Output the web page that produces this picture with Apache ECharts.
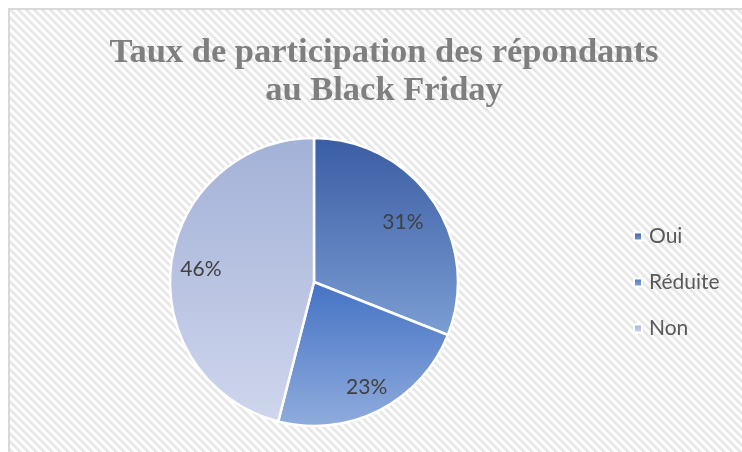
<!DOCTYPE html>
<html>
<head>
<meta charset="utf-8">
<script src="https://cdn.jsdelivr.net/npm/echarts@6/dist/echarts.min.js"></script>
<style>
html,body{margin:0;padding:0;background:#fff;}
#frame{
    position:absolute;left:8px;top:8px;width:760px;height:470px;
    border-left:2px solid #d9d9d9;border-top:2px solid #d9d9d9;
    background:repeating-linear-gradient(45deg,#ffffff 0px,#ffffff 3px,#e8e8e8 3px,#e8e8e8 5.66px);
}
#chart{position:absolute;left:0;top:0;width:742px;height:452px;}
</style>
</head>
<body>
<div id="frame"></div>
<div id="chart"></div>
<script>
// données du graphique
const categories = ['Oui', 'Réduite', 'Non'];
const values = [31, 23, 46];
const topColors = ['#3a5ca3', '#4472c4', '#a3b1d7'];
const bottomColors = ['#7b9ed4', '#90acdd', '#cfd6ed'];

let chart = echarts.init(document.getElementById('chart'));

let pieData = categories.map((name, i) => ({
    name: name,
    value: values[i],
    itemStyle: {
        color: new echarts.graphic.LinearGradient(0, 0, 0, 1, [
            {offset: 0, color: topColors[i]},
            {offset: 1, color: bottomColors[i]}
        ])
    }
}));

// petits décalages des étiquettes (placement "meilleur ajustement" d'Excel)
const labelOffsets = [[-7, 5], [0, 2], [2, 2]];
let labelData = categories.map((name, i) => ({
    name: name,
    value: values[i],
    label: {offset: labelOffsets[i]}
}));

var option = {
    backgroundColor: 'transparent',
    title: {
        text: 'Taux de participation des répondants\nau Black Friday',
        left: 379,
        top: 29,
        textAlign: 'center',
        textStyle: {
            fontFamily: 'Liberation Serif',
            fontWeight: 'bold',
            fontSize: 34.5,
            lineHeight: 38,
            color: '#7f7f7f'
        }
    },
    legend: {
        orient: 'vertical',
        left: 628,
        top: 221,
        icon: 'rect',
        itemWidth: 8,
        itemHeight: 8,
        itemGap: 25,
        data: categories,
        textStyle: {
            fontFamily: 'Lato',
            fontSize: 21,
            color: '#595959',
            padding: [0, 0, 0, 2]
        }
    },
    series: [
        {
            type: 'pie',
            center: [314, 282],
            radius: [0, 144],
            startAngle: 90,
            clockwise: true,
            silent: true,
            itemStyle: {borderColor: '#ffffff', borderWidth: 2.5},
            label: {show: false},
            labelLine: {show: false},
            data: pieData
        },
        {
            type: 'pie',
            center: [314, 282],
            radius: [82, 144],
            startAngle: 90,
            clockwise: true,
            silent: true,
            legendHoverLink: false,
            itemStyle: {color: 'rgba(0,0,0,0)'},
            label: {
                show: true,
                position: 'inside',
                formatter: '{c}%',
                fontFamily: 'Lato',
                fontSize: 21,
                color: '#404040'
            },
            labelLine: {show: false},
            data: labelData
        }
    ]
};

chart.setOption(option);
</script>
</body>
</html>
